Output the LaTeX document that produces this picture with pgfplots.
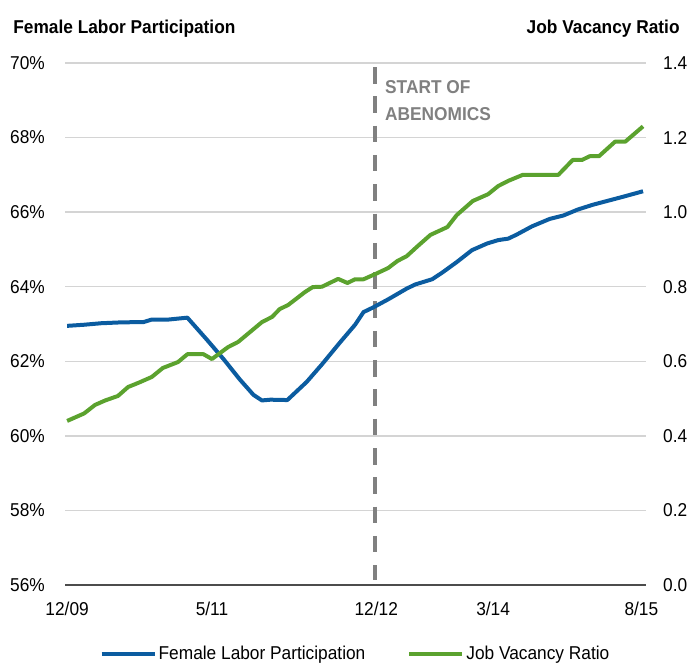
\documentclass[border=0pt]{standalone}
\usepackage{fontspec}
\setmainfont[FakeStretch=0.93]{Liberation Sans}
\usepackage{pgfplots}
\pgfplotsset{compat=1.18}
\definecolor{fblue}{HTML}{0B5CA0}
\definecolor{jgreen}{HTML}{5BA22E}
\definecolor{gridc}{HTML}{D4D4D4}
\definecolor{anngray}{HTML}{808080}
\begin{document}
\fontsize{18.6bp}{22bp}\selectfont
\begin{tikzpicture}
\pgfplotsset{
  every axis/.append style={
    scale only axis, width=581bp, height=522bp,
    xmin=-0.25, xmax=68.35,
    major tick length=0pt,
    /pgf/number format/assume math mode=true,
    tick label style={font=\fontsize{18.6bp}{22bp}\selectfont, inner sep=0pt},
  }
}
\begin{axis}[
  name=ax,
  ymin=56, ymax=70,
  ytick={56,58,60,62,64,66,68,70},
  yticklabels={56\%,58\%,60\%,62\%,64\%,66\%,68\%,70\%},
  ymajorgrids, grid style={gridc, line width=1.5bp},
  yticklabel style={anchor=east, xshift=-20bp},
  axis y line*=left, y axis line style={draw=none},
  axis x line*=bottom, x axis line style={draw=black!70, line width=1.5bp},
  xtick={0,17.1,36.5,50.3,67.8},
  xticklabels={12/09,5/11,12/12,3/14,8/15},
  xticklabel style={anchor=north, yshift=-17bp},
  legend columns=2,
  legend style={draw=none, fill=none, at={(0.5,-0.132)}, anchor=center,
    font=\fontsize{18.6bp}{22bp}\selectfont,
    /tikz/every even column/.append style={column sep=40bp},
    inner sep=0pt},
  legend image code/.code={\draw[#1] (0bp,0bp) -- (53bp,0bp);},
]
\draw[anngray, line width=4bp, dash pattern=on 16.5bp off 12.8bp] (axis cs:36.4,69.89) -- (axis cs:36.4,56.13);
\addplot[fblue, line width=4bp, line join=round] coordinates {
(0,62.95) (2,62.98) (4,63.02) (6,63.04) (8,63.05) (9,63.05) (10,63.12) (12,63.12) (14.2,63.17)
(16.5,62.58) (18.5,62.05) (20.4,61.51) (22,61.1) (23,60.95) (24,60.97) (26,60.96)
(28.3,61.45) (30.1,61.92) (32.2,62.5) (34,62.98) (35,63.32) (36.1,63.44)
(37.9,63.66) (40.1,63.95) (41.1,64.06) (43.1,64.2) (44.3,64.38) (46,64.66) (47.8,64.98)
(49.6,65.16) (50.9,65.25) (52.1,65.29) (53.1,65.4) (54.9,65.62) (57,65.82) (58.6,65.91)
(60.3,66.07) (62.1,66.2) (64.1,66.32) (65.6,66.41) (68,66.56)
};
\addlegendentry{Female Labor Participation}
\addlegendimage{jgreen, line width=4bp}
\addlegendentry{Job Vacancy Ratio}
\end{axis}
\begin{axis}[
  ymin=0, ymax=1.4,
  ytick={0,0.2,0.4,0.6,0.8,1.0,1.2,1.4},
  yticklabels={0.0,0.2,0.4,0.6,0.8,1.0,1.2,1.4},
  yticklabel style={anchor=west, xshift=17bp},
  axis y line*=right, y axis line style={draw=none},
  axis x line=none,
]
\addplot[jgreen, line width=4bp, line join=round] coordinates {
(0,0.44) (1,0.45) (2,0.46) (3.3,0.483) (4.5,0.495) (6,0.507) (7.2,0.531) (8.5,0.543) (10,0.558)
(11.3,0.582) (13.1,0.598) (14.2,0.619) (16.1,0.619) (17.1,0.606) (19,0.638) (20.2,0.652)
(23,0.705) (24.2,0.719) (25.1,0.74) (26.1,0.751) (28.1,0.786) (29,0.799) (30.1,0.80)
(32,0.821) (33.1,0.81) (34,0.82) (35,0.82) (36.4,0.834) (37.9,0.85) (39,0.869) (40.1,0.882)
(41.4,0.909) (42.9,0.939) (44.9,0.96) (46,0.992) (47.9,1.03) (49.7,1.048) (50.9,1.07)
(52.1,1.084) (53.8,1.10) (58,1.10) (59.7,1.14) (60.8,1.14) (61.7,1.15) (62.8,1.15)
(64.7,1.189) (65.9,1.189) (68,1.23)
};
\end{axis}
\node[anchor=base west, font=\bfseries] at ([xshift=-58bp,yshift=29bp]ax.north west) {Female Labor Participation};
\node[anchor=base east, font=\bfseries] at ([xshift=40bp,yshift=29bp]ax.north east) {Job Vacancy Ratio};
\node[anchor=base west, font=\bfseries, text=anngray, inner sep=0pt] at ([xshift=320bp,yshift=-31bp]ax.north west) {START OF};
\node[anchor=base west, font=\bfseries, text=anngray, inner sep=0pt] at ([xshift=320bp,yshift=-57.7bp]ax.north west) {ABENOMICS};
\pgfresetboundingbox
\path[use as bounding box] ([xshift=-65bp,yshift=-82bp]ax.south west) rectangle ([xshift=45bp,yshift=63bp]ax.north east);
\end{tikzpicture}
\end{document}
